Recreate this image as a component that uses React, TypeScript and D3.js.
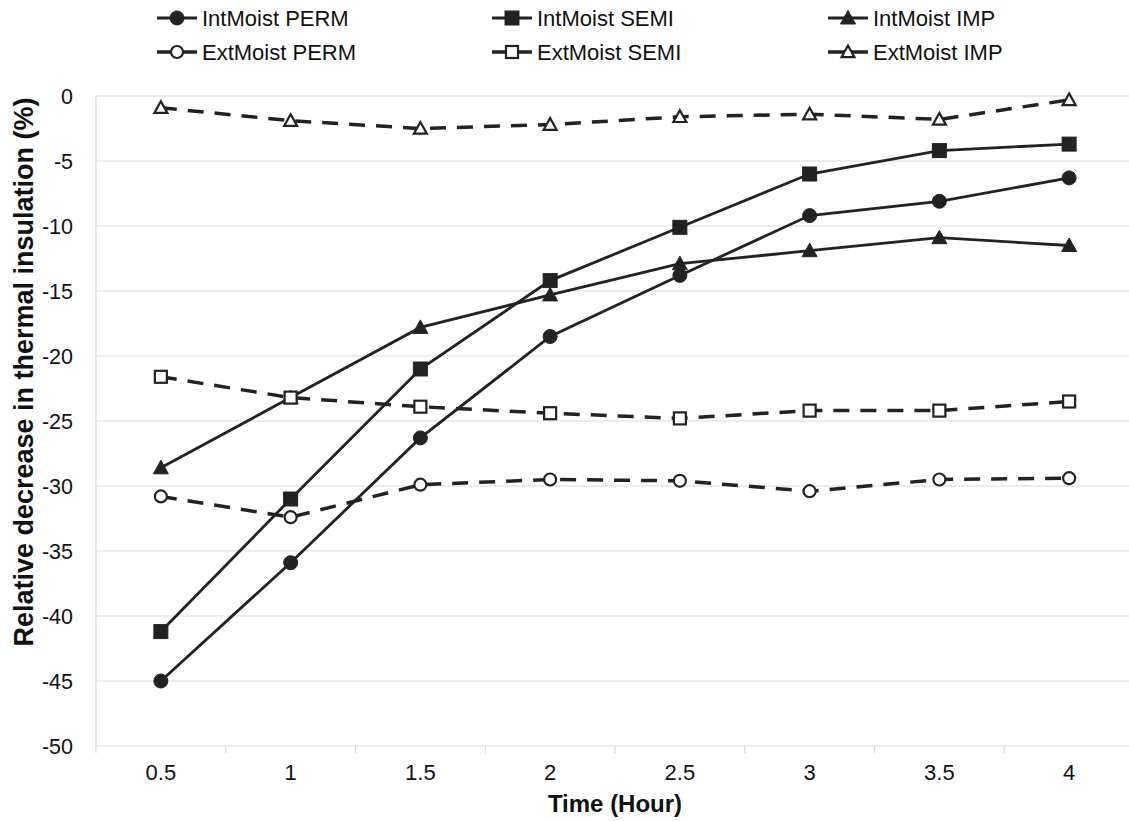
import React from "react";
import * as d3 from "d3";

const categories = ["0.5", "1", "1.5", "2", "2.5", "3", "3.5", "4"];
const intPerm = [-45.0, -35.9, -26.3, -18.5, -13.8, -9.2, -8.1, -6.3];
const intSemi = [-41.2, -31.0, -21.0, -14.2, -10.1, -6.0, -4.2, -3.7];
const intImp = [-28.6, -23.2, -17.8, -15.3, -12.9, -11.9, -10.9, -11.5];
const extPerm = [-30.8, -32.4, -29.9, -29.5, -29.6, -30.4, -29.5, -29.4];
const extSemi = [-21.6, -23.2, -23.9, -24.4, -24.8, -24.2, -24.2, -23.5];
const extImp = [-0.9, -1.9, -2.5, -2.2, -1.6, -1.4, -1.8, -0.3];
const yTicks = [0, -5, -10, -15, -20, -25, -30, -35, -40, -45, -50];

type Series = { name: string; values: number[]; marker: "circle" | "square" | "triangle"; open: boolean };
const series: Series[] = [
  { name: "IntMoist PERM", values: intPerm, marker: "circle", open: false },
  { name: "IntMoist SEMI", values: intSemi, marker: "square", open: false },
  { name: "IntMoist IMP", values: intImp, marker: "triangle", open: false },
  { name: "ExtMoist PERM", values: extPerm, marker: "circle", open: true },
  { name: "ExtMoist SEMI", values: extSemi, marker: "square", open: true },
  { name: "ExtMoist IMP", values: extImp, marker: "triangle", open: true },
];

const W = 1129, H = 821;
const left = 96, right = 1134, top = 96, bottom = 746;
const INK = "#222";
const FONT = "'Liberation Sans', Arial, sans-serif";

function Marker({ x, y, s }: { x: number; y: number; s: Series }) {
  const fill = s.open ? "#fff" : INK;
  const sw = s.open ? 2.2 : 1;
  if (s.marker === "circle") {
    const r = s.open ? 6 : 7;
    return <circle cx={x} cy={y} r={r} fill={fill} stroke={INK} strokeWidth={sw} />;
  }
  if (s.marker === "square") {
    const h = s.open ? 6 : 7;
    return <rect x={x - h} y={y - h} width={2 * h} height={2 * h} fill={fill} stroke={INK} strokeWidth={sw} />;
  }
  const h = s.open ? 6.5 : 7.5;
  const pts = `${x},${y - h} ${x + h},${y + h * 0.8} ${x - h},${y + h * 0.8}`;
  return <polygon points={pts} fill={fill} stroke={INK} strokeWidth={sw} strokeLinejoin="miter" />;
}

export default function App() {
  const x = d3.scaleBand<string>().domain(categories).range([left, right]);
  const y = d3.scaleLinear().domain([-50, 0]).range([bottom, top]);
  const cx = (c: string) => (x(c) as number) + x.bandwidth() / 2;
  const line = d3
    .line<number>()
    .x((_, i) => cx(categories[i]))
    .y((d) => y(d));

  const legendCols = [157, 492, 828];
  const legendRows = [18, 52];

  return (
    <svg width={W} height={H} style={{ position: "absolute", left: 0, top: 0, background: "#fff" }} fontFamily={FONT}>
      <rect x={0} y={0} width={W} height={H} fill="#fff" />
      {yTicks.map((t) => (
        <line key={t} x1={left} x2={right} y1={y(t)} y2={y(t)} stroke="#d9d9d9" strokeWidth={1.2} />
      ))}
      <line x1={left} x2={left} y1={top} y2={bottom + 7} stroke="#d9d9d9" strokeWidth={1.2} />
      {categories.map((c) => (
        <line key={"t" + c} x1={(x(c) as number) + x.bandwidth()} x2={(x(c) as number) + x.bandwidth()} y1={bottom} y2={bottom + 7} stroke="#d9d9d9" strokeWidth={1.2} />
      ))}
      {yTicks.map((t) => (
        <text key={"l" + t} x={73} y={y(t)} dy="0.35em" textAnchor="end" fontSize={21.5} fill="#111">
          {t}
        </text>
      ))}
      {categories.map((c) => (
        <text key={"x" + c} x={cx(c)} y={780} textAnchor="middle" fontSize={22} fill="#111">
          {c}
        </text>
      ))}
      <text x={(left + right) / 2} y={812} textAnchor="middle" fontSize={24} fontWeight="bold" fill="#111">
        Time (Hour)
      </text>
      <text transform={`translate(33,372) rotate(-90)`} textAnchor="middle" fontSize={27} fontWeight="bold" fill="#111">
        Relative decrease in thermal insulation (%)
      </text>
      {series.map((s) => (
        <path key={"p" + s.name} d={line(s.values) || ""} fill="none" stroke={INK} strokeWidth={s.open ? 3.5 : 2.8} strokeDasharray={s.open ? "16,11" : undefined} />
      ))}
      {series.map((s) =>
        s.values.map((v, i) => <Marker key={s.name + i} x={cx(categories[i])} y={y(v)} s={s} />)
      )}
      {series.map((s, k) => {
        const lx = legendCols[k % 3];
        const ly = legendRows[Math.floor(k / 3)];
        return (
          <g key={"lg" + s.name}>
            <line x1={lx} x2={lx + 40} y1={ly} y2={ly} stroke={INK} strokeWidth={s.open ? 3.5 : 2.8} />
            <Marker x={lx + 20} y={ly} s={s} />
            <text x={lx + 45} y={ly} dy="0.35em" fontSize={22} fill="#111">
              {s.name}
            </text>
          </g>
        );
      })}
    </svg>
  );
}
